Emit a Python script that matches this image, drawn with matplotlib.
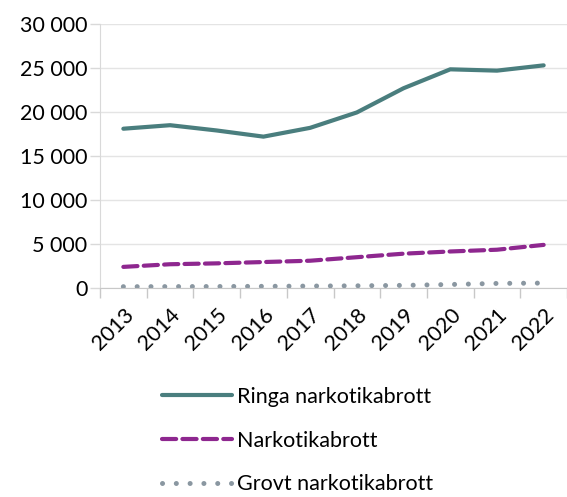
import matplotlib
matplotlib.use("Agg")
import matplotlib.pyplot as plt

years = ["2013", "2014", "2015", "2016", "2017", "2018", "2019", "2020", "2021", "2022"]
ringa = [18100, 18500, 17900, 17200, 18200, 19950, 22700, 24850, 24700, 25300]
nark = [2400, 2700, 2800, 2950, 3100, 3500, 3900, 4150, 4350, 4900]
grovt = [150, 160, 170, 190, 220, 250, 300, 400, 520, 560]
yticks = [0, 5000, 10000, 15000, 20000, 25000, 30000]
ytick_labels = ["0", "5 000", "10 000", "15 000", "20 000", "25 000", "30 000"]

plt.rcParams['font.family'] = ['Lato', 'DejaVu Sans']
FS = 15.5

fig = plt.figure(figsize=(5.67, 4.97), dpi=100)
ax = fig.add_axes([100/567, 1 - 288/497, 467/567, (288-24)/497])

x = list(range(len(years)))
l1, = ax.plot(x, ringa, color='#4A7E7E', lw=3.0, solid_capstyle='round', label='Ringa narkotikabrott')
l2, = ax.plot(x, nark, color='#8E278F', lw=3.0, dashes=(3.4, 1.5), dash_capstyle='round', label='Narkotikabrott')
l3, = ax.plot(x, grovt, color='#8A97A1', lw=3.6, dashes=(0.01, 2.75), dash_capstyle='round', label='Grovt narkotikabrott')

ax.set_xlim(-0.5, len(years) - 0.5)
ax.set_ylim(0, 30000)
ax.set_yticks(yticks)
ax.set_yticklabels(ytick_labels, fontsize=FS)
ax.set_xticks([i - 0.5 for i in range(len(years) + 1)], minor=False)
ax.set_xticklabels([])
ax.set_xticks(x, minor=True)
ax.set_xticklabels(years, minor=True, rotation=45, ha='right', rotation_mode='anchor', fontsize=FS)
ax.tick_params(axis='x', which='minor', length=0, pad=12)
ax.tick_params(axis='x', which='major', length=7, color='#C8C8C8', width=1)
ax.tick_params(axis='y', length=7, color='#D9D9D9', width=1, pad=2)
ax.grid(axis='y', color='#E4E4E4', lw=1)
ax.set_axisbelow(True)
for s in ['top', 'right']:
    ax.spines[s].set_visible(False)
ax.spines['left'].set_color('#D9D9D9')
ax.spines['bottom'].set_color('#C8C8C8')

leg = fig.legend(handles=[l1, l2, l3], loc='upper left', bbox_to_anchor=(149/567, 1 - 374/497),
                 frameon=False, fontsize=FS, handlelength=3.25, handletextpad=0.25, labelspacing=1.1,
                 borderaxespad=0.2)

fig.savefig('out.png', dpi=100)
